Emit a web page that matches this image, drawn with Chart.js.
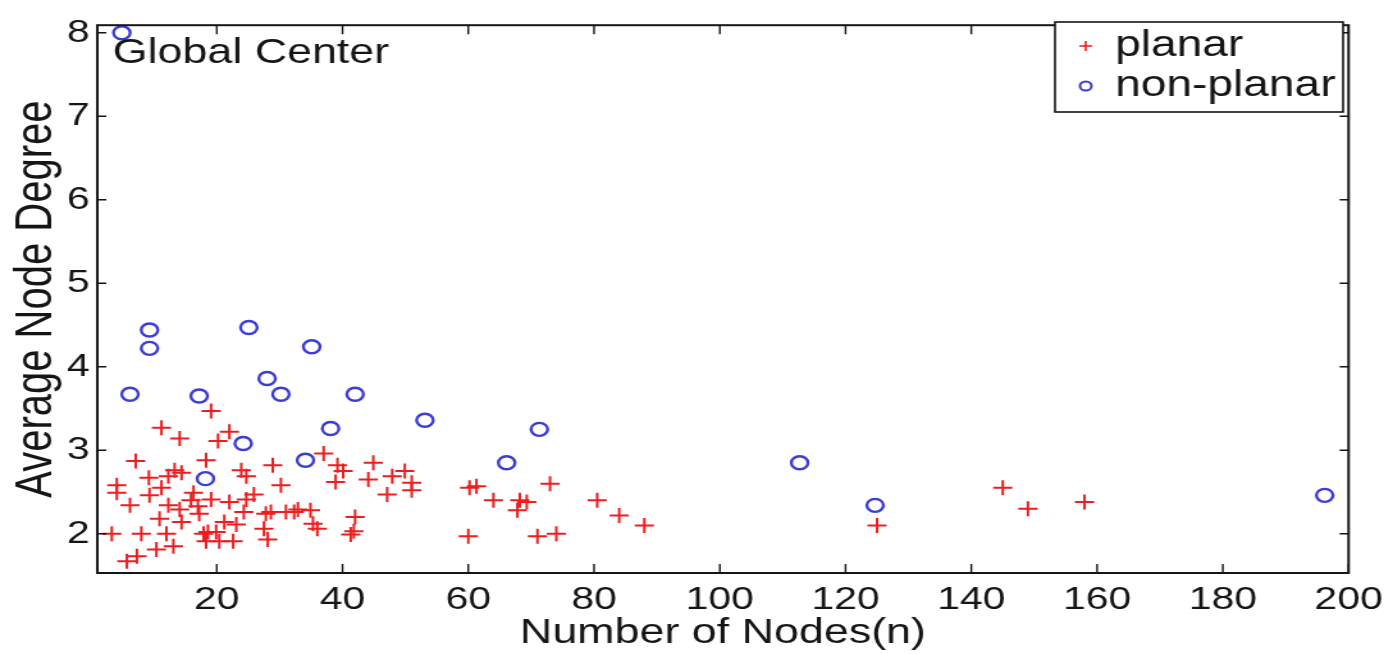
<!DOCTYPE html>
<html>
<head>
<meta charset="utf-8">
<script src="https://cdn.jsdelivr.net/npm/chart.js@4.4.0/dist/chart.umd.min.js"></script>
<style>
  html, body { margin: 0; padding: 0; background: #fff; overflow: hidden; }
</style>
</head>
<body>
<!-- the source figure is stretched sideways, so the canvas is too -->
<canvas id="chart" width="1088" height="654" style="display:block;width:1393px;height:654px"></canvas>
<script>
const xTicks = [20, 40, 60, 80, 100, 120, 140, 160, 180, 200];
const yTicks = [2, 3, 4, 5, 6, 7, 8];

const planarX = [
  11.2, 14.1, 7.1, 9.2, 12.3, 13.3, 14.4, 4.1,
  19.1, 20.2, 22, 18.3, 23.9, 28.9, 24.7, 30.2,
  4.1, 6.2, 9.3, 11.2, 12.3, 14.1, 16.3, 10.9, 14.4, 3.3, 8.0, 12.0, 13.1, 10.4, 7.3, 5.7, 17.9, 15.9, 17,
  19.1, 22, 24.7, 25.9, 17.2, 21.2, 24.3, 27.8, 28.6, 31, 32.3, 18.6, 19.9, 18.3, 20.4, 22.6, 27.5, 28.1, 23.1,
  37, 39.2, 40.1, 38.9, 44.9, 44.1, 47.1, 47.9, 49.9, 51, 51, 32.9, 34.9, 35.3, 36, 42, 41.3, 41.8,
  60.2, 61.3, 64, 67.8, 68.2, 69.3, 73, 60, 71, 74, 80.5, 84, 88, 125, 145, 149, 158
];
const planarY = [
  3.27, 3.14, 2.87, 2.67, 2.69, 2.76, 2.73, 2.58,
  3.47, 3.11, 3.22, 2.88, 2.76, 2.82, 2.69, 2.58,
  2.49, 2.34, 2.46, 2.55, 2.34, 2.29, 2.49, 2.18, 2.14, 2.0, 2.0, 2.0, 1.85, 1.81, 1.73, 1.67, 2.0, 2.4, 2.33,
  2.41, 2.38, 2.41, 2.47, 2.24, 2.14, 2.26, 2.24, 2.26, 2.26, 2.26, 2.02, 2.02, 1.91, 1.91, 1.91, 2.06, 1.93, 2.11,
  2.96, 2.82, 2.75, 2.62, 2.85, 2.65, 2.47, 2.69, 2.75, 2.61, 2.52, 2.29, 2.28, 2.12, 2.06, 2.2, 1.99, 2.03,
  2.55, 2.57, 2.4, 2.28, 2.4, 2.38, 2.6, 1.97, 1.97, 2.0, 2.4, 2.22, 2.1, 2.1, 2.55, 2.3, 2.38
];

const nonPlanarX = [4.9, 9.3, 9.3, 6.2, 17.2, 25.1, 28, 30.2, 35.1, 42, 38.1, 53.1, 71.3, 24.2, 34.1, 18.2, 66.1, 112.7, 124.7, 196.2];
const nonPlanarY = [8.0, 4.44, 4.22, 3.67, 3.65, 4.47, 3.86, 3.67, 4.24, 3.67, 3.26, 3.36, 3.25, 3.08, 2.88, 2.66, 2.85, 2.85, 2.34, 2.46];

const FONT = "'Liberation Sans', Arial, Helvetica, sans-serif";
const INK = '#151515';
const RED = 'rgb(236, 30, 30)';
const BLUE = 'rgb(60, 60, 215)';

function toPoints(xs, ys) {
  return xs.map((x, i) => ({ x, y: ys[i] }));
}

// box round the axes with inward ticks, matlab style
const framePlugin = {
  id: 'frame',
  afterDatasetsDraw(chart) {
    const { ctx, chartArea: a, scales: { x, y } } = chart;
    ctx.save();
    ctx.strokeStyle = INK;
    ctx.lineWidth = 2;
    ctx.strokeRect(a.left, a.top, a.right - a.left, a.bottom - a.top);
    ctx.lineWidth = 1.4;
    ctx.beginPath();
    xTicks.forEach((v) => {
      const px = x.getPixelForValue(v);
      ctx.moveTo(px, a.bottom);
      ctx.lineTo(px, a.bottom - 9);
      ctx.moveTo(px, a.top);
      ctx.lineTo(px, a.top + 9);
    });
    yTicks.forEach((v) => {
      const py = y.getPixelForValue(v);
      ctx.moveTo(a.left, py);
      ctx.lineTo(a.left + 7, py);
      ctx.moveTo(a.right, py);
      ctx.lineTo(a.right - 7, py);
    });
    ctx.stroke();

    ctx.fillStyle = INK;
    ctx.font = '35px ' + FONT;
    ctx.textBaseline = 'middle';
    ctx.textAlign = 'left';
    ctx.fillText('Global Center', a.left + 12, 53);
    ctx.restore();
  },
  afterDraw(chart) {
    const { ctx } = chart;
    const box = { x: 824, y: 22, w: 225, h: 90 };
    ctx.save();
    ctx.fillStyle = '#fff';
    ctx.fillRect(box.x, box.y, box.w, box.h);
    ctx.strokeStyle = INK;
    ctx.lineWidth = 1.6;
    ctx.strokeRect(box.x, box.y, box.w, box.h);

    const rows = [box.y + 24, box.y + 64];
    const mx = box.x + 24;

    ctx.strokeStyle = RED;
    ctx.lineWidth = 1.6;
    ctx.beginPath();
    ctx.moveTo(mx - 5, rows[0]);
    ctx.lineTo(mx + 5, rows[0]);
    ctx.moveTo(mx, rows[0] - 5);
    ctx.lineTo(mx, rows[0] + 5);
    ctx.stroke();

    ctx.strokeStyle = BLUE;
    ctx.lineWidth = 2;
    ctx.beginPath();
    ctx.arc(mx, rows[1], 4.5, 0, Math.PI * 2);
    ctx.stroke();

    ctx.fillStyle = INK;
    ctx.font = '36px ' + FONT;
    ctx.textBaseline = 'middle';
    ctx.textAlign = 'left';
    chart.data.datasets.forEach((ds, i) => {
      ctx.fillText(ds.label, box.x + 47, rows[i]);
    });
    ctx.restore();
  }
};

new Chart(document.getElementById('chart'), {
  type: 'scatter',
  data: {
    datasets: [
      {
        label: 'planar',
        data: toPoints(planarX, planarY),
        pointStyle: 'cross',
        pointRadius: 7.5,
        pointHoverRadius: 7.5,
        borderColor: RED,
        backgroundColor: RED,
        borderWidth: 2
      },
      {
        label: 'non-planar',
        data: toPoints(nonPlanarX, nonPlanarY),
        pointStyle: 'circle',
        pointRadius: 6.5,
        pointHoverRadius: 6.5,
        borderColor: BLUE,
        backgroundColor: 'rgba(0,0,0,0)',
        borderWidth: 2.4
      }
    ]
  },
  options: {
    responsive: false,
    animation: false,
    devicePixelRatio: 1,
    layout: { padding: { top: 14, right: 30, left: 0, bottom: 0 } },
    plugins: {
      legend: { display: false },
      tooltip: { enabled: false }
    },
    scales: {
      x: {
        type: 'linear',
        min: 1,
        max: 200,
        afterBuildTicks: (scale) => { scale.ticks = xTicks.map((v) => ({ value: v })); },
        afterFit: (scale) => { scale.height = 81; },
        grid: { display: false, drawTicks: false },
        border: { display: false },
        ticks: { color: INK, padding: 8, maxRotation: 0, autoSkip: false, font: { family: FONT, size: 32 } },
        title: {
          display: true,
          text: 'Number of Nodes(n)',
          color: INK,
          font: { family: FONT, size: 35 },
          padding: { top: 0, bottom: 0 }
        }
      },
      y: {
        type: 'linear',
        min: 1.53,
        max: 8.09,
        afterBuildTicks: (scale) => { scale.ticks = yTicks.map((v) => ({ value: v })); },
        afterFit: (scale) => { scale.width = 76; },
        grid: { display: false, drawTicks: false },
        border: { display: false },
        ticks: { color: INK, padding: 6, font: { family: FONT, size: 32 } },
        title: {
          display: true,
          text: 'Average Node Degree',
          color: INK,
          font: { family: FONT, size: 40 },
          padding: { top: 5, bottom: 0 }
        }
      }
    }
  },
  plugins: [framePlugin]
});
</script>
</body>
</html>
